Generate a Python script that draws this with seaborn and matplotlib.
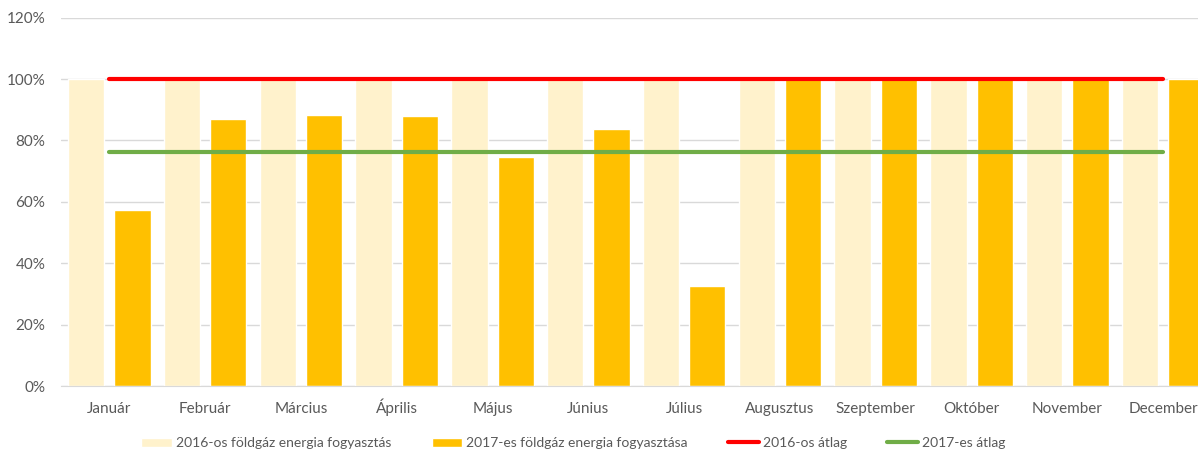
import matplotlib
matplotlib.use("Agg")

import matplotlib.pyplot as plt
import numpy as np
import pandas as pd
import seaborn as sns
from matplotlib.ticker import PercentFormatter


months = [
    "Január", "Február", "Március", "Április", "Május", "Június",
    "Július", "Augusztus", "Szeptember", "Október", "November", "December",
]
cons_2016 = [100, 100, 100, 100, 100, 100, 100, 100, 100, 100, 100, 100]
cons_2017 = [57.4, 87.1, 88.4, 88.0, 74.7, 83.8, 32.6, 100, 100, 100, 100, 100]
avg_2016 = 100.0
avg_2017 = 76.3

label_2016 = "2016-os földgáz energia fogyasztás"
label_2017 = "2017-es földgáz energia fogyasztása"
label_avg_2016 = "2016-os átlag"
label_avg_2017 = "2017-es átlag"

colors = {label_2016: "#FFF2CC", label_2017: "#FFC000"}

sns.set_style("white")
plt.rcParams["font.family"] = ["Lato", "DejaVu Sans"]

df = pd.DataFrame({
    "month": months * 2,
    "series": [label_2016] * len(months) + [label_2017] * len(months),
    "value": cons_2016 + cons_2017,
})

fig = plt.figure(figsize=(11.98, 4.51), dpi=100)
ax = fig.add_axes([0.0513, 0.1441, 0.9596, 0.8166])

sns.barplot(
    data=df,
    x="month",
    y="value",
    hue="series",
    palette=colors,
    width=0.968,
    gap=0.217,
    saturation=1,
    legend=True,
    ax=ax,
)

pos = np.arange(len(months))
sns.lineplot(x=pos, y=[avg_2016] * len(months), color="#FF0000", lw=3,
             solid_capstyle="round", label=label_avg_2016, ax=ax)
sns.lineplot(x=pos, y=[avg_2017] * len(months), color="#70AD47", lw=3,
             solid_capstyle="round", label=label_avg_2017, ax=ax)

ax.set_xlim(-0.5, len(months) - 0.5)
ax.set_ylim(0, 120)
ax.set_yticks(np.arange(0, 121, 20))
ax.yaxis.set_major_formatter(PercentFormatter(decimals=0))
ax.grid(axis="y", color="#D9D9D9", lw=1)
ax.set_axisbelow(True)
for side in ["top", "right", "left"]:
    ax.spines[side].set_visible(False)
ax.spines["bottom"].set_color("#D9D9D9")
ax.set_xlabel("")
ax.set_ylabel("")
ax.tick_params(axis="both", length=0, colors="#595959", labelsize=11)
ax.tick_params(axis="x", pad=19.5)
ax.tick_params(axis="y", pad=11.5)
# keep accented labels (Április) on the same baseline as the others
for t in ax.get_xticklabels():
    t.set_verticalalignment("baseline")

handles, labels = ax.get_legend_handles_labels()
ax.get_legend().remove()
fig.legend(
    handles, labels,
    loc="center", bbox_to_anchor=(0.4785, 0.017),
    ncol=4, frameon=False, fontsize=10, labelcolor="#595959",
    handlelength=2.2, handleheight=0.7, handletextpad=0.3, columnspacing=2.9,
)

fig.savefig("out.png", dpi=100)
